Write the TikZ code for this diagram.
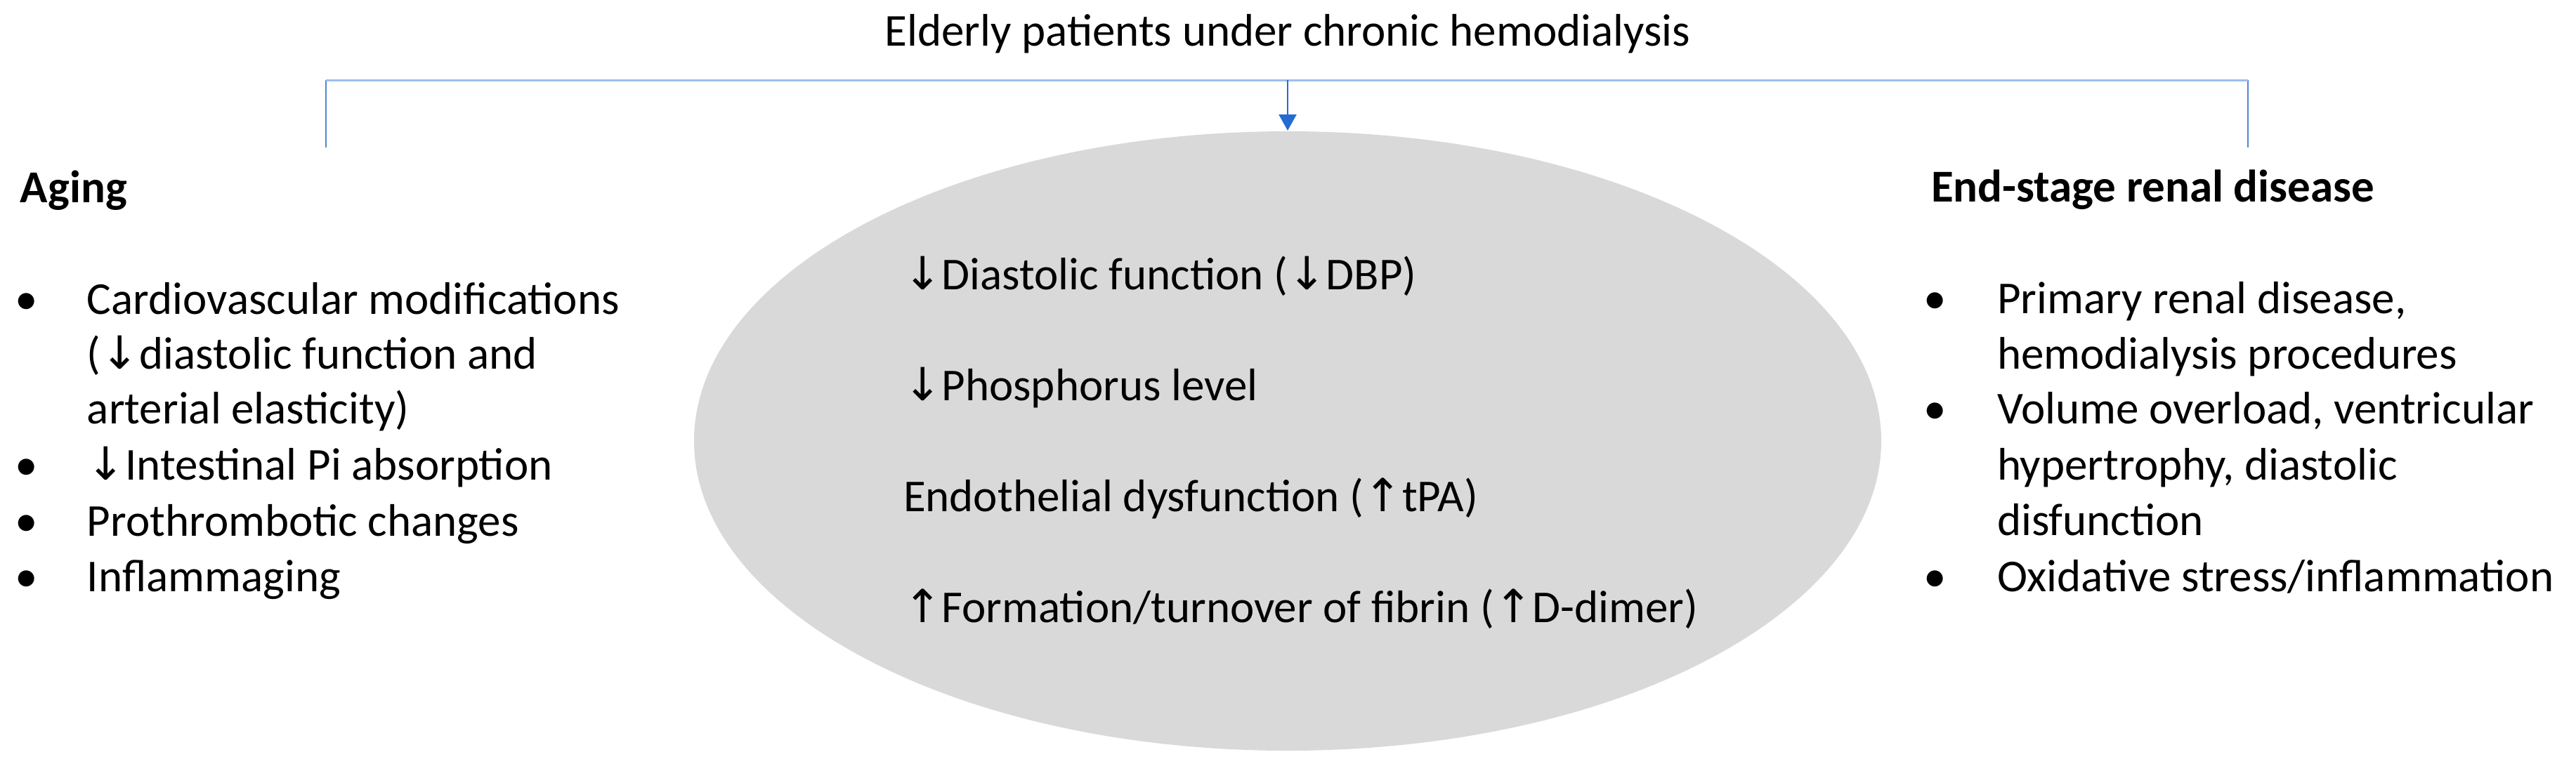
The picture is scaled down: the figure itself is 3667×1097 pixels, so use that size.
\documentclass[tikz,border=0pt]{standalone}
\usepackage{fontspec}
\setmainfont{Carlito}
\newfontfamily\arrowfont{DejaVu Sans}
\newcommand{\dnar}{{\arrowfont ↓}}
\newcommand{\upar}{{\arrowfont ↑}}
\usetikzlibrary{arrows.meta,shapes.geometric}
\definecolor{toplinecol}{RGB}{157,190,233}
\definecolor{sidelinecol}{RGB}{84,132,218}
\definecolor{arrowcol}{RGB}{36,108,210}
\definecolor{ellgray}{RGB}{217,217,217}
\begin{document}
\begin{tikzpicture}[x=0.2pt,y=-0.2pt,
  txt/.style={anchor=base west, inner sep=0pt, font=\fontsize{13}{15.6}\selectfont},
  hdr/.style={anchor=base west, inner sep=0pt, font=\fontsize{13}{15.6}\selectfont\bfseries},
  bul/.style={anchor=base, inner sep=0pt, font=\fontsize{13}{15.6}\selectfont},
  topline/.style={draw=toplinecol, line width=0.6pt},
  sideline/.style={draw=sidelinecol, line width=0.5pt},
  arr/.style={draw=arrowcol, line width=0.45pt, -{Triangle[width=5pt,length=4.6pt]}},
  blob/.style={ellipse, fill=ellgray, draw=none, inner sep=0pt, minimum width=338pt, minimum height=176.4pt}]
\useasboundingbox (0,0) rectangle (3667,1097);

% central ellipse
\node[blob] (ell) at (1833,628) {};

% title
\node[anchor=base, inner sep=0pt, font=\fontsize{13}{15.6}\selectfont] (title) at (1833,65) {Elderly patients under chronic hemodialysis};

% connectors
\coordinate (lb) at (464,210);
\coordinate (lt) at (464,114);
\coordinate (rt) at (3200,114);
\coordinate (rb) at (3200,210);
\coordinate (mid) at (1833,114);
\draw[sideline] (lb) -- (lt);
\draw[sideline] (rt) -- (rb);
\draw[topline] (lt) -- (rt);
\draw[arr] (mid) -- (ell.north);

% left column
\node[hdr] (aging) at (28,288) {Aging};
\node[bul] (lb1) at (38,447) {•};
\node[bul] (lb2) at (38,683) {•};
\node[bul] (lb3) at (38,763) {•};
\node[bul] (lb4) at (38,842) {•};
\node[txt] (l1) at (123,447) {Cardiovascular modifications};
\node[txt] (l2) at (123,525) {(\dnar diastolic function and};
\node[txt] (l3) at (123,603) {arterial elasticity)};
\node[txt] (l4) at (123,683) {\dnar Intestinal Pi absorption};
\node[txt] (l5) at (123,763) {Prothrombotic changes};
\node[txt] (l6) at (123,842) {Inflammaging};

% right column
\node[hdr] (esrd) at (2748,287) {End-stage renal disease};
\node[bul] (rb1) at (2755,446) {•};
\node[bul] (rb2) at (2755,603) {•};
\node[bul] (rb3) at (2755,842) {•};
\node[txt] (r1) at (2842,446) {Primary renal disease,};
\node[txt] (r2) at (2842,525) {hemodialysis procedures};
\node[txt] (r3) at (2842,603) {Volume overload, ventricular};
\node[txt] (r4) at (2842,683) {hypertrophy, diastolic};
\node[txt] (r5) at (2842,762) {disfunction};
\node[txt] (r6) at (2842,842) {Oxidative stress/inflammation};

% centre text
\node[txt] (c1) at (1285,412) {\dnar Diastolic function (\dnar DBP)};
\node[txt] (c2) at (1285,570) {\dnar Phosphorus level};
\node[txt] (c3) at (1285,728) {Endothelial dysfunction (\upar tPA)};
\node[txt] (c4) at (1285,886) {\upar Formation/turnover of fibrin (\upar D-dimer)};
\end{tikzpicture}
\end{document}
